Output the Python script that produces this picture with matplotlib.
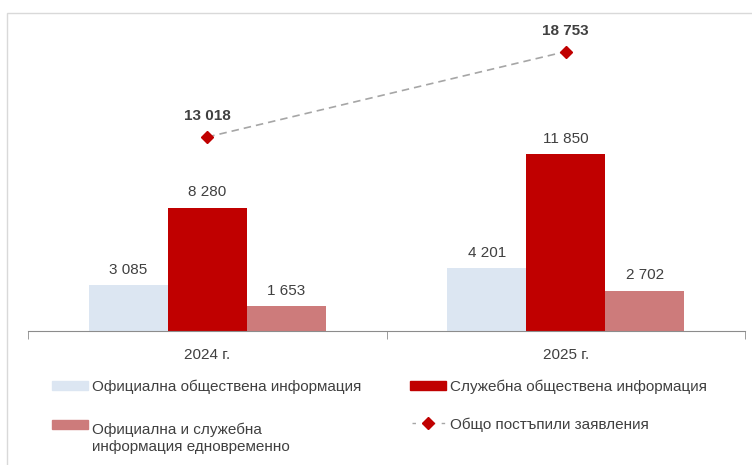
import matplotlib
matplotlib.use("Agg")
import matplotlib.pyplot as plt
import numpy as np
from matplotlib.patches import Rectangle
from matplotlib.lines import Line2D

categories = ["2024 г.", "2025 г."]
official = [3085, 4201]
service = [8280, 11850]
both = [1653, 2702]
total = [13018, 18753]
series_names = ["Официална обществена информация",
                "Служебна обществена информация",
                "Официална и служебна\nинформация едновременно",
                "Общо постъпили заявления"]

plt.rcParams['font.family'] = ['Liberation Sans', 'DejaVu Sans']

def fmt(v):
    return f"{v:,}".replace(",", " ")

W, H = 752, 465
fig = plt.figure(figsize=(W / 100, H / 100), dpi=100)
fig.patches.append(Rectangle((7/W, -0.1), 1, 1.1 - 13/H, transform=fig.transFigure,
                             fill=False, edgecolor="#D9D9D9", linewidth=1.0))
ax = fig.add_axes([28/W, 1 - 331/H, (745 - 28)/W, (331 - 33)/H])

x = np.arange(len(categories))
w = 0.22
c_off, c_srv, c_both = "#DCE6F2", "#C00000", "#CD7B7B"
b1 = ax.bar(x - w, official, w, color=c_off)
b2 = ax.bar(x, service, w, color=c_srv)
b3 = ax.bar(x + w, both, w, color=c_both)
ln, = ax.plot(x, total, linestyle=(0, (4.5, 3)), color="#A6A6A6", linewidth=1.2,
              marker="D", markersize=6, markerfacecolor="#C00000",
              markeredgecolor="#C00000")

txtc = "#404040"
fs = 11
for bars, vals in ((b1, official), (b2, service), (b3, both)):
    for r, v in zip(bars, vals):
        ax.annotate(fmt(v), (r.get_x() + r.get_width() / 2, v), xytext=(0, 6),
                    textcoords="offset points", ha="center", va="bottom",
                    fontsize=fs, color=txtc)
for xi, v in zip(x, total):
    ax.annotate(fmt(v), (xi, v), xytext=(0, 10), textcoords="offset points",
                ha="center", va="bottom", fontsize=fs, fontweight="bold",
                color=txtc, annotation_clip=False)

ax.set_xlim(-0.5, 1.5)
ax.set_ylim(0, 20000)
ax.set_yticks([])
for s in ("top", "right", "left"):
    ax.spines[s].set_visible(False)
ax.spines["bottom"].set_color("#8C8C8C")
ax.set_xticks(x)
ax.set_xticklabels(categories, fontsize=fs, color=txtc)
ax.tick_params(axis="x", length=0, pad=12.5)
ax.set_xticks([-0.5, 0.5, 1.5], minor=True)
ax.tick_params(axis="x", which="minor", length=6, color="#8C8C8C")

# manual legend (figure pixel coords, top-origin)
def fx(px): return px / W
def fy(py): return 1 - py / H

def swatch(x0, yc, color):
    fig.patches.append(Rectangle((fx(x0), fy(yc + 4.5)), 36 / W, 9 / H,
                                 transform=fig.transFigure, color=color))

swatch(52, 385.5, c_off)
fig.text(fx(92), fy(385.5), series_names[0], fontsize=fs, color=txtc, va="center_baseline")
swatch(410, 385.5, c_srv)
fig.text(fx(450), fy(385.5), series_names[1], fontsize=fs, color=txtc, va="center_baseline")
swatch(52, 424, c_both)
fig.text(fx(92), fy(423), series_names[2], fontsize=fs, color=txtc, va="top",
         linespacing=1.2)
fig.lines.append(Line2D([fx(412), fx(445)], [fy(423), fy(423)], transform=fig.transFigure,
                        linestyle=(0, (2.5, 4.5)), color="#A6A6A6", linewidth=1.0))
fig.lines.append(Line2D([fx(428)], [fy(423)], transform=fig.transFigure,
                        marker="D", markersize=6, color="#C00000", linestyle="none"))
fig.text(fx(450), fy(423.5), series_names[3], fontsize=fs, color=txtc, va="center_baseline")

fig.savefig("out.png", dpi=100)
